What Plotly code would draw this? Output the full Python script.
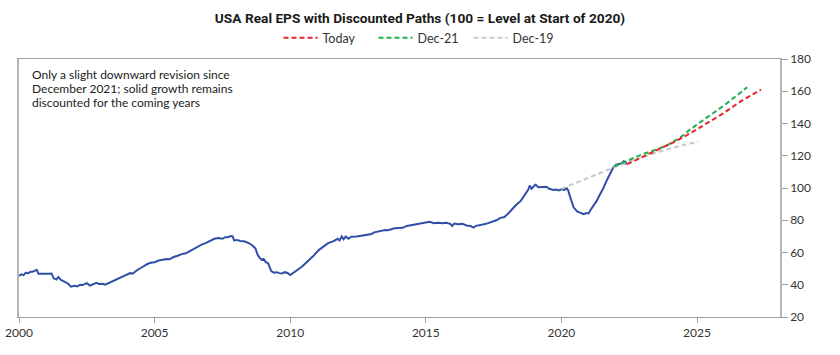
import plotly.graph_objects as go

# ---- data ----
eps_years = [2000.00, 2000.08, 2000.17, 2000.25, 2000.33, 2000.42, 2000.50, 2000.58, 2000.65, 2000.72,
             2000.85, 2001.00, 2001.10, 2001.20, 2001.28, 2001.38, 2001.45, 2001.55, 2001.65, 2001.80,
             2001.92, 2002.05, 2002.15, 2002.25, 2002.35, 2002.50, 2002.62, 2002.70, 2002.85, 2002.95,
             2003.08, 2003.18, 2003.30, 2003.50, 2003.70, 2003.90, 2004.10, 2004.20, 2004.35, 2004.55,
             2004.75, 2004.90, 2005.00, 2005.15, 2005.30, 2005.45, 2005.55, 2005.70, 2005.85, 2006.00,
             2006.15, 2006.30, 2006.45, 2006.60, 2006.75, 2006.90, 2007.05, 2007.20, 2007.35, 2007.50,
             2007.60, 2007.70, 2007.80, 2007.88, 2007.93, 2008.05, 2008.15, 2008.30, 2008.45, 2008.60,
             2008.72, 2008.80, 2008.88, 2008.95, 2009.02, 2009.10, 2009.18, 2009.30, 2009.40, 2009.50,
             2009.60, 2009.70, 2009.80, 2009.90, 2010.00, 2010.10, 2010.25, 2010.45, 2010.65, 2010.85,
             2011.05, 2011.20, 2011.40, 2011.60, 2011.75, 2011.82, 2011.90, 2011.97, 2012.05, 2012.15,
             2012.25, 2012.45, 2012.65, 2012.85, 2013.00, 2013.10, 2013.20, 2013.35, 2013.50, 2013.60,
             2013.70, 2013.85, 2014.00, 2014.15, 2014.30, 2014.50, 2014.70, 2014.85, 2015.00, 2015.15,
             2015.30, 2015.45, 2015.60, 2015.75, 2015.90, 2015.97, 2016.05, 2016.20, 2016.35, 2016.50,
             2016.65, 2016.75, 2016.85, 2017.00, 2017.15, 2017.30, 2017.45, 2017.60, 2017.75, 2017.90,
             2018.00, 2018.15, 2018.30, 2018.50, 2018.65, 2018.78, 2018.83, 2018.90, 2019.00, 2019.05,
             2019.15, 2019.30, 2019.45, 2019.55, 2019.70, 2019.80, 2019.90, 2020.00, 2020.10, 2020.20,
             2020.25, 2020.33, 2020.45, 2020.58, 2020.70, 2020.82, 2020.92, 2021.00, 2021.08, 2021.18,
             2021.30, 2021.42, 2021.55, 2021.68, 2021.80, 2021.92, 2022.02, 2022.12, 2022.22, 2022.30,
             2022.36, 2022.42]
eps_values = [45.5, 46.5, 46.0, 47.5, 47.0, 48.0, 48.0, 48.5, 49.2, 46.8,
              46.8, 46.5, 46.8, 47.0, 44.0, 43.2, 44.8, 43.0, 42.3, 40.8,
              38.8, 39.3, 39.0, 40.0, 39.8, 41.0, 39.5, 40.2, 41.2, 40.5,
              40.6, 40.0, 41.0, 42.3, 44.0, 45.5, 47.2, 47.0, 49.0, 51.0,
              53.0, 53.8, 54.0, 55.0, 55.5, 56.0, 55.8, 57.2, 58.0, 59.0,
              59.5, 61.0, 62.5, 64.0, 65.0, 66.0, 67.5, 68.5, 69.0, 68.5,
              69.5, 69.5, 70.2, 70.0, 67.5, 67.8, 67.2, 67.0, 66.0, 64.5,
              62.5, 58.5, 56.5, 55.5, 56.0, 54.0, 53.5, 48.5, 47.5, 47.8,
              47.2, 47.0, 47.8, 47.3, 46.0, 47.0, 49.0, 51.5, 54.5, 57.8,
              61.5, 63.5, 65.8, 67.0, 68.5, 67.5, 70.0, 68.2, 70.0, 68.5,
              69.8, 70.0, 70.5, 71.0, 71.5, 72.5, 72.8, 73.5, 74.0, 73.8,
              74.3, 75.0, 75.2, 75.3, 76.5, 77.0, 77.8, 78.2, 78.5, 79.0,
              78.2, 78.5, 78.2, 78.5, 77.8, 76.5, 78.0, 77.5, 77.8, 76.8,
              76.5, 75.5, 76.5, 76.8, 77.5, 78.2, 79.0, 80.0, 81.5, 82.0,
              83.5, 86.5, 89.0, 92.0, 95.5, 99.0, 101.5, 99.5, 101.5, 102.0,
              100.5, 100.8, 100.8, 99.5, 98.8, 99.0, 98.5, 99.2, 98.8, 99.8,
              98.5, 94.0, 88.0, 85.5, 84.8, 83.8, 84.5, 84.2, 86.5, 89.0,
              92.0, 96.0, 100.0, 105.0, 109.5, 113.0, 114.5, 115.0, 115.2, 116.5,
              115.0, 116.0]

today_years = [2022.42, 2023.0, 2023.53, 2024.15, 2024.76, 2025.37, 2025.98, 2026.6, 2027.36]
today_values = [114.7, 119.3, 123.4, 128.5, 134.0, 140.2, 146.4, 153.6, 161.0]

dec21_years = [2021.95, 2022.5, 2023.0, 2023.5, 2023.9, 2024.4, 2024.76, 2025.37, 2025.98, 2026.48, 2026.85]
dec21_values = [113.5, 117.5, 121.0, 123.8, 126.5, 131.5, 136.5, 143.8, 151.0, 157.5, 162.5]

dec19_years = [2020.0, 2020.5, 2021.0, 2021.5, 2022.0, 2022.5, 2023.0, 2023.5, 2024.0, 2024.5, 2025.04]
dec19_values = [99.5, 103.0, 106.5, 110.0, 113.2, 116.3, 119.2, 122.0, 124.5, 126.8, 128.8]

x_ticks = [2000, 2005, 2010, 2015, 2020, 2025]
x_tick_labels = ["2000", "2005", "2010", "2015", "2020", "2025"]
y_ticks = [20, 40, 60, 80, 100, 120, 140, 160, 180]

title_text = "USA Real EPS with Discounted Paths (100 = Level at Start of 2020)"
note_lines = ["Only a slight downward revision since",
              "December 2021; solid growth remains",
              "discounted for the coming years"]

# ---- layout geometry (page body margin removed below) ----
W, H = 840, 355
ML, MR, MT, MB = 19, 60, 59, 38
PLOT_H = H - MT - MB
PLOT_W = W - ML - MR

def paper_y(abs_y):
    return (H - MB - abs_y) / PLOT_H

def paper_x(abs_x):
    return (abs_x - ML) / PLOT_W

# ---- figure ----
fig = go.Figure()
fig.add_trace(go.Scatter(x=eps_years, y=eps_values, mode="lines", showlegend=False,
                         line=dict(color="#2F4FA6", width=2), name="EPS"))
fig.add_trace(go.Scatter(x=dec19_years, y=dec19_values, mode="lines", name="Dec-19",
                         line=dict(color="#C9C9C9", width=2, dash="5px,3px")))
fig.add_trace(go.Scatter(x=dec21_years, y=dec21_values, mode="lines", name="Dec-21",
                         line=dict(color="#1FAE4B", width=2, dash="5px,3px")))
fig.add_trace(go.Scatter(x=today_years, y=today_values, mode="lines", name="Today",
                         line=dict(color="#E8242C", width=2, dash="5px,3px")))

fig.update_layout(
    width=W, height=H,
    margin=dict(l=ML, r=MR, t=MT, b=MB, autoexpand=False),
    paper_bgcolor="white", plot_bgcolor="white",
    font=dict(family="Lato, Open Sans, sans-serif", size=12, color="#333333"),
    title=dict(text="<b>" + title_text + "</b>", x=420 / W, xanchor="center",
               y=1 - 18 / H, yref="container", yanchor="middle",
               font=dict(family="Roboto, sans-serif", size=13.7, color="#1a1a1a")),
    legend=dict(orientation="h", x=paper_x(421), xanchor="center",
                y=paper_y(38), yanchor="middle",
                traceorder="reversed", font=dict(size=12.5, color="#333333"),
                itemwidth=34, entrywidth=46, entrywidthmode="pixels",
                bgcolor="rgba(0,0,0,0)"),
    showlegend=True,
)
fig.update_xaxes(range=[2000, 2028.06], tickvals=x_ticks, ticktext=x_tick_labels,
                 automargin=False, ticklabeloverflow="allow",
                 showgrid=False, zeroline=False, showline=True, linecolor="#a0a0a0",
                 linewidth=1, mirror=True, ticks="outside", ticklen=5, tickcolor="#a0a0a0",
                 tickfont=dict(size=12, color="#333333"))
fig.update_yaxes(range=[20, 180], tickvals=y_ticks, side="right", automargin=False,
                 ticklabeloverflow="allow",
                 showgrid=False, zeroline=False, showline=True, linecolor="#b5b5b5",
                 linewidth=1.5, mirror=True, ticks="outside", ticklen=6, tickcolor="#a0a0a0",
                 tickfont=dict(size=12, color="#333333"))
for i, line in enumerate(note_lines):
    fig.add_annotation(text=line, xref="paper", yref="paper", x=paper_x(30),
                       y=paper_y(74 + 14 * i),
                       xanchor="left", yanchor="middle", align="left", showarrow=False,
                       font=dict(size=12, color="#222222"))

fig.write_html("out.html", config={"displayModeBar": False},
               post_script="document.body.style.margin='0';")
